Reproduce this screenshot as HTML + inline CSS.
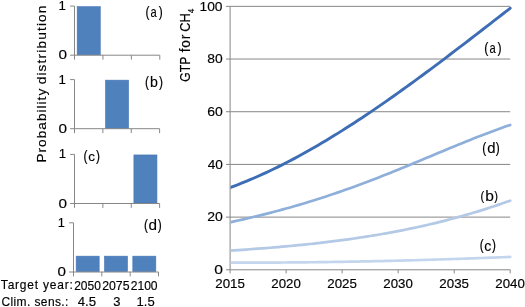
<!DOCTYPE html>
<html><head><meta charset="utf-8"><style>
html,body{margin:0;padding:0;background:#fff;width:525px;height:307px;overflow:hidden}
svg{display:block;will-change:transform}
text{font-family:"Liberation Sans", sans-serif;fill:#000;stroke:#000;stroke-width:0.15px}
</style></head><body>
<svg xmlns="http://www.w3.org/2000/svg" width="525" height="307" viewBox="0 0 525 307">
<defs><clipPath id="pc"><rect x="230.6" y="0" width="294.4" height="307"/></clipPath></defs>
<rect width="525" height="307" fill="#fff"/>
<rect x="77.17" y="6.65" width="23.09" height="48.25" fill="#4F81BD" stroke="#4676B5" stroke-width="0.6"/>
<path d="M70.10 6.10H74.50V55.20M70.10 55.20H159.79" fill="none" stroke="#878787" stroke-width="1"/>
<path d="M74.50 55.20V59.60M102.93 55.20V59.60M131.36 55.20V59.60M159.79 55.20V59.60" fill="none" stroke="#878787" stroke-width="1"/>
<rect x="105.53" y="80.15" width="23.04" height="48.25" fill="#4F81BD" stroke="#4676B5" stroke-width="0.6"/>
<path d="M70.10 79.60H74.50V128.70M70.10 128.70H159.61" fill="none" stroke="#878787" stroke-width="1"/>
<path d="M74.50 128.70V133.10M102.87 128.70V133.10M131.24 128.70V133.10M159.61 128.70V133.10" fill="none" stroke="#878787" stroke-width="1"/>
<rect x="133.90" y="154.95" width="23.04" height="48.25" fill="#4F81BD" stroke="#4676B5" stroke-width="0.6"/>
<path d="M70.10 154.40H74.50V203.50M70.10 203.50H159.61" fill="none" stroke="#878787" stroke-width="1"/>
<path d="M74.50 203.50V207.90M102.87 203.50V207.90M131.24 203.50V207.90M159.61 203.50V207.90" fill="none" stroke="#878787" stroke-width="1"/>
<rect x="76.16" y="256.15" width="23.01" height="15.55" fill="#4F81BD" stroke="#4676B5" stroke-width="0.6"/>
<rect x="104.49" y="256.15" width="23.01" height="15.55" fill="#4F81BD" stroke="#4676B5" stroke-width="0.6"/>
<rect x="132.82" y="256.15" width="23.01" height="15.55" fill="#4F81BD" stroke="#4676B5" stroke-width="0.6"/>
<path d="M69.10 222.80H73.50V272.00M69.10 272.00H158.49" fill="none" stroke="#878787" stroke-width="1"/>
<path d="M73.50 272.00V276.40M101.83 272.00V276.40M130.16 272.00V276.40M158.49 272.00V276.40" fill="none" stroke="#878787" stroke-width="1"/>
<path d="M230.10 217.11H510.20M230.10 164.42H510.20M230.10 111.73H510.20M230.10 59.04H510.20M230.10 6.35H510.20" fill="none" stroke="#878787" stroke-width="1"/>
<path d="M226.00 269.80H230.10M226.00 217.11H230.10M226.00 164.42H230.10M226.00 111.73H230.10M226.00 59.04H230.10M226.00 6.35H230.10M230.10 6.35V273.40M230.10 269.80H510.20" fill="none" stroke="#878787" stroke-width="1"/>
<path d="M286.12 269.80V273.40M342.14 269.80V273.40M398.16 269.80V273.40M454.18 269.80V273.40M510.20 269.80V273.40" fill="none" stroke="#878787" stroke-width="1"/>
<path d="M230.10 262.55 L234.10 262.57 L238.10 262.58 L242.10 262.59 L246.10 262.59 L250.10 262.60 L254.10 262.60 L258.10 262.59 L262.10 262.59 L266.10 262.58 L270.10 262.56 L274.10 262.55 L278.10 262.53 L282.10 262.51 L286.10 262.48 L290.10 262.45 L294.10 262.42 L298.10 262.39 L302.10 262.35 L306.10 262.31 L310.10 262.27 L314.10 262.23 L318.10 262.18 L322.10 262.13 L326.10 262.07 L330.10 262.02 L334.10 261.96 L338.10 261.90 L342.10 261.83 L346.10 261.77 L350.10 261.70 L354.10 261.62 L358.10 261.55 L362.10 261.47 L366.10 261.39 L370.10 261.31 L374.10 261.22 L378.10 261.13 L382.10 261.04 L386.10 260.95 L390.10 260.85 L394.10 260.76 L398.10 260.66 L402.10 260.55 L406.10 260.45 L410.10 260.34 L414.10 260.23 L418.10 260.12 L422.10 260.00 L426.10 259.89 L430.10 259.77 L434.10 259.64 L438.10 259.52 L442.10 259.39 L446.10 259.26 L450.10 259.13 L454.10 259.00 L458.10 258.86 L462.10 258.73 L466.10 258.59 L470.10 258.45 L474.10 258.30 L478.10 258.16 L482.10 258.01 L486.10 257.86 L490.10 257.70 L494.10 257.55 L498.10 257.39 L502.10 257.24 L506.10 257.08 L510.10 256.91 L510.20 256.91" fill="none" stroke="#C3D6EE" stroke-width="2.7" stroke-linecap="round" stroke-linejoin="round" clip-path="url(#pc)"/>
<path d="M230.10 250.63 L234.10 250.37 L238.10 250.10 L242.10 249.83 L246.10 249.55 L250.10 249.26 L254.10 248.97 L258.10 248.67 L262.10 248.36 L266.10 248.05 L270.10 247.73 L274.10 247.40 L278.10 247.06 L282.10 246.71 L286.10 246.35 L290.10 245.98 L294.10 245.60 L298.10 245.21 L302.10 244.81 L306.10 244.40 L310.10 243.98 L314.10 243.55 L318.10 243.10 L322.10 242.64 L326.10 242.17 L330.10 241.69 L334.10 241.19 L338.10 240.68 L342.10 240.15 L346.10 239.61 L350.10 239.05 L354.10 238.48 L358.10 237.90 L362.10 237.29 L366.10 236.67 L370.10 236.04 L374.10 235.39 L378.10 234.72 L382.10 234.03 L386.10 233.32 L390.10 232.60 L394.10 231.86 L398.10 231.10 L402.10 230.32 L406.10 229.51 L410.10 228.69 L414.10 227.85 L418.10 226.99 L422.10 226.11 L426.10 225.21 L430.10 224.28 L434.10 223.33 L438.10 222.36 L442.10 221.37 L446.10 220.35 L450.10 219.31 L454.10 218.25 L458.10 217.16 L462.10 216.05 L466.10 214.91 L470.10 213.75 L474.10 212.56 L478.10 211.35 L482.10 210.11 L486.10 208.84 L490.10 207.55 L494.10 206.23 L498.10 204.88 L502.10 203.50 L506.10 202.10 L510.10 200.67 L510.20 200.63" fill="none" stroke="#B3C9E5" stroke-width="2.7" stroke-linecap="round" stroke-linejoin="round" clip-path="url(#pc)"/>
<path d="M230.10 222.33 L234.10 221.44 L238.10 220.54 L242.10 219.63 L246.10 218.71 L250.10 217.77 L254.10 216.81 L258.10 215.84 L262.10 214.85 L266.10 213.85 L270.10 212.82 L274.10 211.78 L278.10 210.72 L282.10 209.64 L286.10 208.55 L290.10 207.43 L294.10 206.29 L298.10 205.13 L302.10 203.95 L306.10 202.74 L310.10 201.52 L314.10 200.28 L318.10 199.01 L322.10 197.73 L326.10 196.42 L330.10 195.09 L334.10 193.74 L338.10 192.37 L342.10 190.99 L346.10 189.58 L350.10 188.15 L354.10 186.70 L358.10 185.23 L362.10 183.75 L366.10 182.25 L370.10 180.73 L374.10 179.19 L378.10 177.64 L382.10 176.07 L386.10 174.49 L390.10 172.90 L394.10 171.29 L398.10 169.68 L402.10 168.05 L406.10 166.41 L410.10 164.76 L414.10 163.11 L418.10 161.45 L422.10 159.79 L426.10 158.12 L430.10 156.45 L434.10 154.78 L438.10 153.10 L442.10 151.44 L446.10 149.77 L450.10 148.11 L454.10 146.45 L458.10 144.81 L462.10 143.17 L466.10 141.55 L470.10 139.93 L474.10 138.34 L478.10 136.76 L482.10 135.20 L486.10 133.66 L490.10 132.14 L494.10 130.65 L498.10 129.18 L502.10 127.75 L506.10 126.35 L510.10 124.98 L510.20 124.94" fill="none" stroke="#8EAFD9" stroke-width="2.7" stroke-linecap="round" stroke-linejoin="round" clip-path="url(#pc)"/>
<path d="M230.10 187.53 L234.10 186.05 L238.10 184.53 L242.10 182.96 L246.10 181.34 L250.10 179.68 L254.10 177.97 L258.10 176.22 L262.10 174.43 L266.10 172.59 L270.10 170.72 L274.10 168.80 L278.10 166.84 L282.10 164.85 L286.10 162.81 L290.10 160.74 L294.10 158.63 L298.10 156.48 L302.10 154.30 L306.10 152.08 L310.10 149.82 L314.10 147.54 L318.10 145.22 L322.10 142.86 L326.10 140.48 L330.10 138.06 L334.10 135.61 L338.10 133.14 L342.10 130.63 L346.10 128.10 L350.10 125.54 L354.10 122.95 L358.10 120.33 L362.10 117.69 L366.10 115.03 L370.10 112.34 L374.10 109.63 L378.10 106.89 L382.10 104.13 L386.10 101.35 L390.10 98.55 L394.10 95.73 L398.10 92.89 L402.10 90.03 L406.10 87.15 L410.10 84.26 L414.10 81.35 L418.10 78.42 L422.10 75.48 L426.10 72.52 L430.10 69.55 L434.10 66.57 L438.10 63.57 L442.10 60.56 L446.10 57.54 L450.10 54.51 L454.10 51.47 L458.10 48.43 L462.10 45.37 L466.10 42.30 L470.10 39.23 L474.10 36.15 L478.10 33.07 L482.10 29.98 L486.10 26.89 L490.10 23.79 L494.10 20.69 L498.10 17.59 L502.10 14.49 L506.10 11.38 L510.10 8.28 L510.20 8.20" fill="none" stroke="#3D6DB4" stroke-width="2.9" stroke-linecap="round" stroke-linejoin="round" clip-path="url(#pc)"/>
<text transform="translate(58.54,9.8) scale(1.0761,1)" font-size="12.32">1</text>
<text transform="translate(58.39,59.47) scale(1.1690,1)" font-size="13.10">0</text>
<text transform="translate(58.54,83.5) scale(1.0761,1)" font-size="12.32">1</text>
<text transform="translate(58.39,132.97) scale(1.1690,1)" font-size="13.10">0</text>
<text transform="translate(58.64,158.2) scale(1.0761,1)" font-size="12.32">1</text>
<text transform="translate(58.39,207.77) scale(1.1690,1)" font-size="13.10">0</text>
<text transform="translate(57.68,226.8) scale(1.0383,1)" font-size="12.32">1</text>
<text transform="translate(57.39,276.07) scale(1.1737,1)" font-size="12.96">0</text>
<text transform="translate(145.53,16.85) scale(0.8500,1)" font-size="14.04" style="stroke-width:0.2px">(</text>
<text transform="translate(150.45,17.1) scale(0.7668,1)" font-size="14.55" style="stroke-width:0.12px">a</text>
<text transform="translate(158.63,16.85) scale(0.8500,1)" font-size="14.04" style="stroke-width:0.2px">)</text>
<text transform="translate(145.11,86.55) scale(0.8500,1)" font-size="14.04" style="stroke-width:0.2px">(</text>
<text transform="translate(150.05,86.8) scale(0.9568,1)" font-size="14.86" style="stroke-width:0.12px">b</text>
<text transform="translate(158.88,86.55) scale(0.8500,1)" font-size="14.04" style="stroke-width:0.2px">)</text>
<text transform="translate(83.41,161.15) scale(0.8500,1)" font-size="14.04" style="stroke-width:0.2px">(</text>
<text transform="translate(88.36,161.42) scale(1.0025,1)" font-size="13.45" style="stroke-width:0.12px">c</text>
<text transform="translate(95.88,161.15) scale(0.8500,1)" font-size="14.04" style="stroke-width:0.2px">)</text>
<text transform="translate(144.11,229.55) scale(0.8500,1)" font-size="14.04" style="stroke-width:0.2px">(</text>
<text transform="translate(148.49,229.81) scale(1.0604,1)" font-size="14.46" style="stroke-width:0.12px">d</text>
<text transform="translate(157.63,229.55) scale(0.8500,1)" font-size="14.04" style="stroke-width:0.2px">)</text>
<text transform="translate(484.36,52.78) scale(0.8500,1)" font-size="14.36" style="stroke-width:0.2px">(</text>
<text transform="translate(489.45,53.1) scale(0.7668,1)" font-size="14.55" style="stroke-width:0.12px">a</text>
<text transform="translate(497.59,52.78) scale(0.8500,1)" font-size="14.36" style="stroke-width:0.2px">)</text>
<text transform="translate(482.13,153.15) scale(0.8500,1)" font-size="14.04" style="stroke-width:0.2px">(</text>
<text transform="translate(487.2,153.41) scale(1.0297,1)" font-size="14.46" style="stroke-width:0.12px">d</text>
<text transform="translate(495.63,153.15) scale(0.8500,1)" font-size="14.04" style="stroke-width:0.2px">)</text>
<text transform="translate(480.55,199.64) scale(0.8500,1)" font-size="13.14" style="stroke-width:0.2px">(</text>
<text transform="translate(485.27,200.8) scale(1.0232,1)" font-size="15.20" style="stroke-width:0.12px">b</text>
<text transform="translate(494.29,199.64) scale(0.8500,1)" font-size="13.14" style="stroke-width:0.2px">)</text>
<text transform="translate(479.73,250.11) scale(0.8500,1)" font-size="13.78" style="stroke-width:0.2px">(</text>
<text transform="translate(484.33,251.1) scale(0.9753,1)" font-size="14.55" style="stroke-width:0.12px">c</text>
<text transform="translate(492.06,250.11) scale(0.8500,1)" font-size="13.78" style="stroke-width:0.2px">)</text>
<text x="0.86" y="288.8" font-size="11.97" letter-spacing="0.795">Target year:</text>
<text transform="translate(74.2,289.58) scale(0.9915,1)" font-size="12.11">2050</text>
<text transform="translate(102.18,289.58) scale(1.0155,1)" font-size="12.11">2075</text>
<text transform="translate(130.69,289.58) scale(0.9992,1)" font-size="12.11">2100</text>
<text x="1.4" y="306" font-size="11.97" letter-spacing="0.411">Clim. sens.:</text>
<text transform="translate(77.64,305.77) scale(1.0439,1)" font-size="12.68">4.5</text>
<text transform="translate(113.28,305.77) scale(1.0239,1)" font-size="12.68">3</text>
<text transform="translate(136.55,305.77) scale(1.0166,1)" font-size="12.86">1.5</text>
<text transform="translate(199.5,10.57) scale(1.0428,1)" font-size="13.24">100</text>
<text transform="translate(207.34,63.07) scale(1.0832,1)" font-size="12.82">80</text>
<text transform="translate(207.2,115.97) scale(1.0819,1)" font-size="12.96">60</text>
<text transform="translate(207.63,168.77) scale(1.0397,1)" font-size="13.10">40</text>
<text transform="translate(207.2,221.47) scale(1.0819,1)" font-size="12.96">20</text>
<text transform="translate(214.28,273.97) scale(1.2191,1)" font-size="12.82">0</text>
<text transform="translate(215.23,288.07) scale(1.0637,1)" font-size="12.54">2015</text>
<text transform="translate(271.26,288.07) scale(1.0587,1)" font-size="12.54">2020</text>
<text transform="translate(327.27,288.07) scale(1.0637,1)" font-size="12.54">2025</text>
<text transform="translate(383.3,288.07) scale(1.0587,1)" font-size="12.54">2030</text>
<text transform="translate(439.31,288.07) scale(1.0637,1)" font-size="12.54">2035</text>
<text transform="translate(495.34,288.07) scale(1.0587,1)" font-size="12.54">2040</text>
<text transform="translate(45.6,162.59) rotate(-90)" font-size="13.63" letter-spacing="1.022">Probability</text>
<text transform="translate(45.6,84.35) rotate(-90)" font-size="13.63" letter-spacing="1.173">distribution</text>
<text transform="translate(190.4,81.71) rotate(-90) scale(0.8471,1)" font-size="14.35">GTP</text>
<text transform="translate(190.4,52.14) rotate(-90)" font-size="13.77" letter-spacing="0.649">for</text>
<text transform="translate(190.4,31.74) rotate(-90) scale(0.8938,1)" font-size="14.35">CH</text>
<text transform="translate(193.6,13.16) rotate(-90) scale(0.8734,1)" font-size="9.43">4</text>
</svg>
</body></html>
